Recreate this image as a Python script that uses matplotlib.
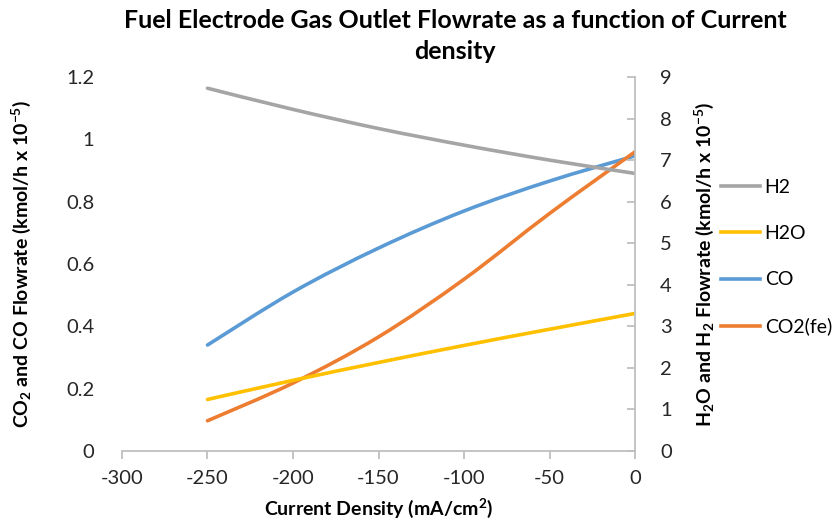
import matplotlib
matplotlib.use("Agg")
import matplotlib.pyplot as plt
from matplotlib.path import Path
from matplotlib.patches import PathPatch
from matplotlib.lines import Line2D

plt.rcParams['font.family'] = ['Lato', 'DejaVu Sans']
plt.rcParams['mathtext.fontset'] = 'custom'
plt.rcParams['mathtext.rm'] = 'Lato'
plt.rcParams['mathtext.bf'] = 'Lato:bold'
plt.rcParams['mathtext.default'] = 'bf'
plt.rcParams['axes.unicode_minus'] = False

current_density = [-250, -200, -150, -100, -50, 0]
h2 = [8.73, 8.22, 7.76, 7.36, 7.00, 6.68]        # right axis
h2o = [1.24, 1.70, 2.13, 2.54, 2.93, 3.31]       # right axis
co = [0.340, 0.510, 0.651, 0.770, 0.866, 0.947]  # left axis
co2 = [0.097, 0.218, 0.366, 0.551, 0.762, 0.960] # left axis


def smooth_path(xs, ys):
    """Excel-style smoothed line: cubic Bezier segments through the data points."""
    n = len(xs)
    verts = [(xs[0], ys[0])]
    codes = [Path.MOVETO]
    for i in range(n - 1):
        xp, yp = (xs[i - 1], ys[i - 1]) if i > 0 else (xs[i], ys[i])
        xn2, yn2 = (xs[i + 2], ys[i + 2]) if i + 2 < n else (xs[i + 1], ys[i + 1])
        c1 = (xs[i] + (xs[i + 1] - xp) / 6, ys[i] + (ys[i + 1] - yp) / 6)
        c2 = (xs[i + 1] - (xn2 - xs[i]) / 6, ys[i + 1] - (yn2 - ys[i]) / 6)
        verts += [c1, c2, (xs[i + 1], ys[i + 1])]
        codes += [Path.CURVE4] * 3
    return Path(verts, codes)


fig = plt.figure(figsize=(8.35, 5.27), dpi=100)
ax = fig.add_axes([122/835, 76/527, 513/835, 374/527])
ax2 = ax.twinx()

grey = '#A5A5A5'
yellow = '#FFC000'
blue = '#5B9BD5'
orange = '#ED7D31'
lw = 2.6

for a, ys, c in ((ax, co, blue), (ax, co2, orange), (ax2, h2, grey), (ax2, h2o, yellow)):
    a.add_patch(PathPatch(smooth_path(current_density, ys), facecolor='none',
                          edgecolor=c, lw=lw, capstyle='round', joinstyle='round'))

ax.set_xlim(-300, 0)
ax.set_ylim(0, 1.2)
ax2.set_ylim(0, 9)
ax.set_xticks([-300, -250, -200, -150, -100, -50, 0])
ax.set_yticks([0, 0.2, 0.4, 0.6, 0.8, 1.0, 1.2])
ax.set_yticklabels(['0', '0.2', '0.4', '0.6', '0.8', '1', '1.2'])
ax2.set_yticks(range(0, 10))

axc = '#BFBFBF'
for a in (ax, ax2):
    for s in ('top', 'left'):
        a.spines[s].set_visible(False)
    a.spines['bottom'].set_color(axc)
    a.spines['right'].set_color(axc)
    a.spines['bottom'].set_linewidth(1.3)
    a.spines['right'].set_linewidth(1.3)
ax.spines['right'].set_visible(False)
ax2.spines['bottom'].set_visible(False)

tc = '#262626'
ax.tick_params(axis='x', direction='out', length=6, width=1.3, color=axc,
               labelsize=14.5, pad=8, labelcolor=tc)
ax.tick_params(axis='y', length=0, labelsize=14.5, pad=20, labelcolor=tc)
ax2.tick_params(axis='y', direction='in', length=6, width=1.3, color=axc,
                labelsize=14.5, pad=18, labelcolor=tc)

ax.set_xlabel('Current Density (mA/cm$^{2}$)', fontsize=14, fontweight='bold', labelpad=7)
ax.set_ylabel('CO$_{2}$ and CO Flowrate (kmol/h x 10$^{-5}$)', fontsize=14,
              fontweight='bold', labelpad=24)
ax2.set_ylabel('H$_{2}$O and H$_{2}$ Flowrate (kmol/h x 10$^{-5}$)', fontsize=14,
               fontweight='bold', labelpad=15)

fig.suptitle('Fuel Electrode Gas Outlet Flowrate as a function of Current\ndensity',
             fontsize=18, fontweight='bold', x=0.545, y=0.982, linespacing=1.38)

handles = [Line2D([], [], color=grey, lw=lw), Line2D([], [], color=yellow, lw=lw),
           Line2D([], [], color=blue, lw=lw), Line2D([], [], color=orange, lw=lw)]
fig.legend(handles=handles, labels=['H2', 'H2O', 'CO', 'CO2(fe)'], loc='upper left',
           bbox_to_anchor=(721/835, 1 - 179/527), frameon=False, fontsize=14,
           handlelength=2.0, handletextpad=0.25, labelspacing=1.5, borderaxespad=0,
           borderpad=0)

fig.savefig('out.png', dpi=100)
